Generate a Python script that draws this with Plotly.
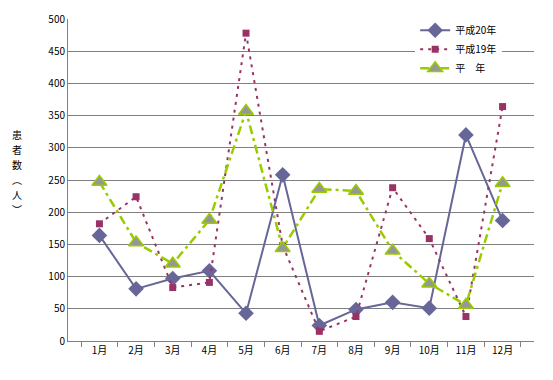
import plotly.graph_objects as go

months = ["1月", "2月", "3月", "4月", "5月", "6月", "7月", "8月", "9月", "10月", "11月", "12月"]
h20 = [164, 81, 97, 109, 43, 258, 24, 49, 60, 51, 320, 187]
h19 = [182, 224, 83, 91, 478, 148, 15, 38, 238, 159, 38, 364]
heinen = [247, 153, 120, 188, 357, 144, 236, 233, 140, 89, 56, 245]
ytitle_chars = ["患", "者", "数", "︵", "人", "︶"]

font_family = "Noto Sans CJK JP, Noto Sans, sans-serif"

fig = go.Figure()
fig.add_trace(go.Scatter(
    x=months, y=h20, name="平成20年", mode="lines+markers",
    line=dict(color="#666699", width=2),
    marker=dict(symbol="diamond", size=12, color="#666699"),
))
fig.add_trace(go.Scatter(
    x=months, y=h19, name="平成19年", mode="lines+markers",
    line=dict(color="#993366", width=2, dash="3px,5px"),
    marker=dict(symbol="square", size=7, color="#993366"),
))
fig.add_trace(go.Scatter(
    x=months, y=heinen, name="平\u3000年", mode="lines+markers",
    line=dict(color="#99CC00", width=2.5, dash="9px,4px,3px,4px"),
    marker=dict(symbol="triangle-up", size=13, color="#969696",
                line=dict(color="#99CC00", width=1.5)),
))

fig.update_layout(
    width=553, height=380,
    margin=dict(l=68, r=19, t=19, b=39, autoexpand=False),
    paper_bgcolor="white", plot_bgcolor="white",
    font=dict(family=font_family, size=10, color="black"),
    showlegend=True,
    legend=dict(x=0.745, y=1.01, xanchor="left", yanchor="top",
                bgcolor="white", font=dict(size=10), tracegroupgap=0,
                itemwidth=30),
    xaxis=dict(type="category", showline=True, linecolor="#808080", linewidth=1,
               ticks="outside", tickson="boundaries", ticklen=5, tickcolor="#808080",
               showgrid=False, zeroline=False, automargin=False),
    yaxis=dict(range=[0, 500], dtick=50, showline=True, linecolor="#808080", linewidth=1,
               gridcolor="#808080", gridwidth=1, zeroline=False,
               ticks="", ticklen=0, automargin=False),
)

yshifts = [46, 31, 16, 1, -14, -29]
for ch, ys in zip(ytitle_chars, yshifts):
    fig.add_annotation(
        text=ch, xref="paper", yref="paper", x=0, y=0.5, xshift=-51, yshift=ys,
        xanchor="center", yanchor="middle", showarrow=False,
        font=dict(size=10, family=font_family),
    )

fig.write_html("out.html", config={"displayModeBar": False},
               post_script="document.body.style.margin='0';")
